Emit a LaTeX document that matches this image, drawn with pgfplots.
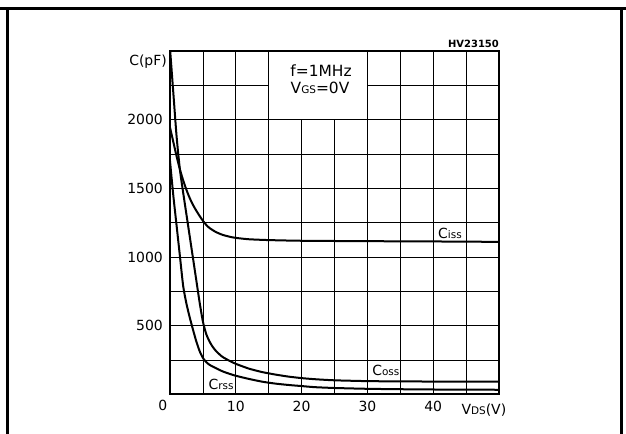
\documentclass[border=0pt]{standalone}
\usepackage{pgfplots}
\pgfplotsset{compat=1.18}
\usepackage{fontspec}
\setmainfont{DejaVu Sans}
\newcommand{\lbl}{\fontsize{14}{16}\selectfont}
\newcommand{\sm}[1]{{\fontsize{10.5}{11}\selectfont #1}}

\begin{document}
\begin{tikzpicture}[x=1bp,y=1bp]
\path[use as bounding box] (0,0) rectangle (626,434);
% outer frame
\draw[line width=2.5bp] (0,425.3) -- (626,425.3);
\draw[line width=2.5bp] (7.7,425.3) -- (7.7,0);
\draw[line width=2.5bp] (621.7,425.3) -- (621.7,0);
\begin{axis}[
  at={(170bp,39.7bp)}, anchor=south west,
  width=329bp, height=343bp, scale only axis,
  xmin=0, xmax=50, ymin=0, ymax=2500,
  xtick={0,5,...,50}, xticklabels={,,10,,20,,30,,40,,},
  ytick={0,250,...,2500}, yticklabels={,,500,,1000,,1500,,2000,,},
  major tick length=0pt,
  grid=major,
  grid style={black, line width=0.8bp},
  axis line style={line width=2bp},
  ticklabel style={font=\lbl, inner sep=0pt},
  xticklabel style={anchor=base, yshift=-17.7bp},
  yticklabel style={anchor=east, xshift=-7bp},
  clip mode=individual,
]
% white box behind the conditions text
\fill[white] ([xshift=0.5bp,yshift=0.5bp]axis cs:15,2000) rectangle ([xshift=-0.5bp,yshift=-1bp]axis cs:30,2500);

% Ciss
\addplot[black, line width=2bp, smooth, tension=0.4] coordinates {
  (0,1945) (0.5,1840) (1,1735) (1.5,1640) (2,1560) (2.5,1490) (3,1430)
  (3.5,1380) (4,1338) (4.5,1300) (5,1265) (5.5,1235) (6,1212) (7,1182)
  (8,1162) (9,1149) (10,1140) (12,1130) (15,1124) (20,1119) (30,1116)
  (40,1114) (50,1111)
};
% Coss
\addplot[black, line width=2bp, smooth, tension=0.4] coordinates {
  (0,2520) (0.5,2200) (1,1880) (1.5,1640) (2,1470) (2.5,1310) (3,1150)
  (3.5,990) (4,830) (4.5,670) (5,530) (5.5,440) (6,385) (6.5,345)
  (7,315) (7.5,292) (8,272) (9,245) (10,222) (12,187) (14,162) (16,144)
  (18,129) (20,118) (22,110) (25,102) (30,96) (35,94) (40,93) (45,93) (50,93)
};
% Crss
\addplot[black, line width=2bp, smooth, tension=0.4] coordinates {
  (0,1700) (0.5,1450) (1,1230) (1.5,1010) (2,790) (2.5,660) (3,560)
  (3.5,470) (4,385) (4.5,315) (5,265) (5.5,235) (6,215) (7,190) (8,167)
  (9,150) (10,135) (12,112) (14,92) (16,78) (18,68) (20,60) (22,52)
  (25,46) (30,40) (35,37) (40,35) (45,34) (50,33)
};

% texts
\node[anchor=east, font=\lbl, inner sep=0pt] at ([xshift=-3bp,yshift=-10bp]axis cs:0,2500) {C(pF)};
\node[anchor=base, font=\lbl, inner sep=0pt] at ([xshift=-7.3bp,yshift=-16.7bp]axis cs:0,0) {0};
\node[anchor=base east, font=\fontsize{10}{12}\bfseries, inner sep=0pt] at ([yshift=4bp]axis cs:50,2500) {HV23150};
\node[anchor=base, font=\lbl, inner sep=0pt] at ([yshift=-20.7bp]axis cs:47.7,0) {V\sm{DS}(V)};
\node[font=\fontsize{15.5}{17}\selectfont, inner sep=0pt] at (axis cs:22.95,2356) {f=1MHz};
\node[font=\fontsize{15.5}{17}\selectfont, inner sep=0pt] at (axis cs:22.8,2233) {V\sm{GS}=0V};
\node[font=\lbl, inner sep=0pt] at (axis cs:42.55,1175) {C\sm{iss}};
\node[font=\lbl, inner sep=0pt] at (axis cs:32.8,177) {C\sm{oss}};
\node[font=\lbl, inner sep=0pt] at (axis cs:7.75,75) {C\sm{rss}};
\end{axis}
\end{tikzpicture}
\end{document}
